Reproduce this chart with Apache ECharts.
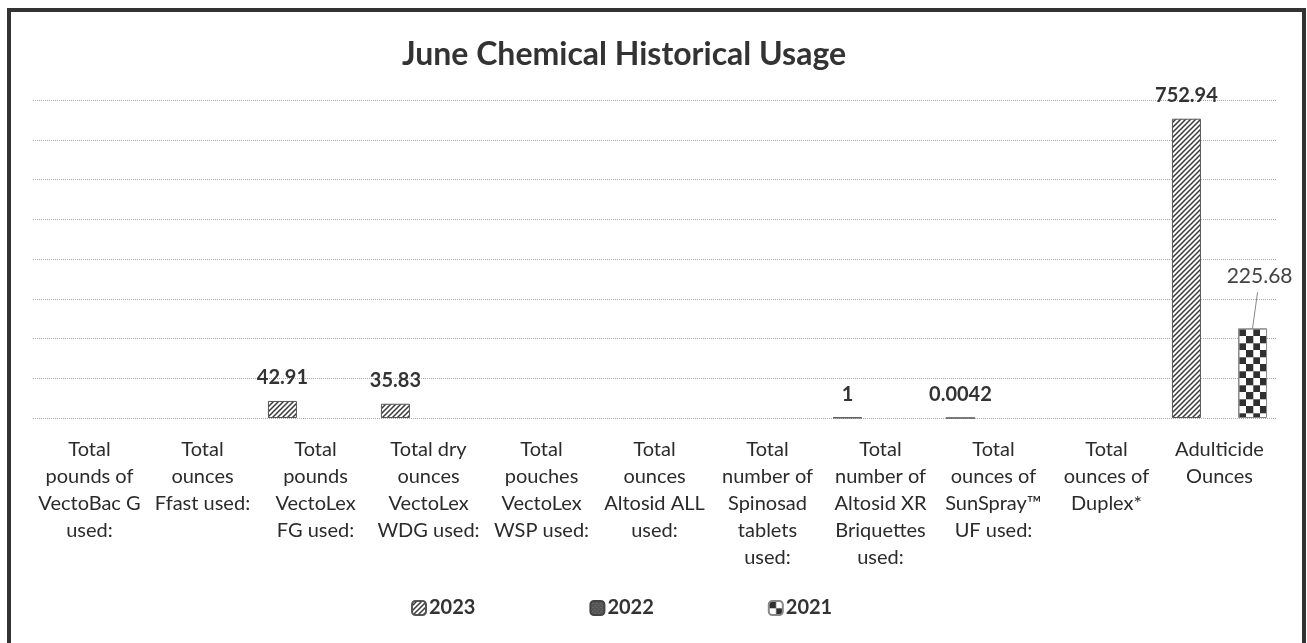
<!DOCTYPE html>
<html>
<head>
<meta charset="utf-8">
<script src="https://cdn.jsdelivr.net/npm/echarts@6/dist/echarts.min.js"></script>
<style>
  html, body { margin: 0; padding: 0; background: #fff; }
  #chart { width: 1307px; height: 643px; }
</style>
</head>
<body>
<div id="chart"></div>
<script>
const categories = [
  "Total\npounds of\nVectoBac G\nused:",
  "Total\nounces\nFfast used:",
  "Total\npounds\nVectoLex\nFG used:",
  "Total dry\nounces\nVectoLex\nWDG used:",
  "Total\npouches\nVectoLex\nWSP used:",
  "Total\nounces\nAltosid ALL\nused:",
  "Total\nnumber of\nSpinosad\ntablets\nused:",
  "Total\nnumber of\nAltosid XR\nBriquettes\nused:",
  "Total\nounces of\nSunSpray™\nUF used:",
  "Total\nounces of\nDuplex*",
  "Adulticide\nOunces"
];
const seriesNames = ["2023", "2022", "2021"];
const values2023 = [null, null, 42.91, 35.83, null, null, null, 1, 0.0042, null, 752.94];
const values2022 = [null, null, null, null, null, null, null, null, null, null, null];
const values2021 = [null, null, null, null, null, null, null, null, null, null, 225.68];
const yMin = 0, yMax = 800, yInterval = 100;

const FONT = 'Lato, "Open Sans", sans-serif';

function makePattern(kind) {
  const c = document.createElement('canvas');
  const ctx = c.getContext('2d');
  if (kind === 'hatch') {
    c.width = 5; c.height = 5;
    ctx.fillStyle = '#ffffff'; ctx.fillRect(0, 0, 5, 5);
    ctx.strokeStyle = '#3a3a3a'; ctx.lineWidth = 1.5;
    ctx.beginPath();
    ctx.moveTo(-1, 6); ctx.lineTo(6, -1);
    ctx.moveTo(-3.5, 3.5); ctx.lineTo(3.5, -3.5);
    ctx.moveTo(1.5, 8.5); ctx.lineTo(8.5, 1.5);
    ctx.stroke();
  } else if (kind === 'check') {
    c.width = 14; c.height = 14;
    ctx.fillStyle = '#ffffff'; ctx.fillRect(0, 0, 14, 14);
    ctx.fillStyle = '#303030';
    ctx.fillRect(0, 0, 7, 7); ctx.fillRect(7, 7, 7, 7);
    ctx.fillStyle = '#999';
    ctx.fillRect(0, 7, 14, 0.6); ctx.fillRect(7, 0, 0.6, 14);
  } else {
    c.width = 4; c.height = 4;
    ctx.fillStyle = '#555'; ctx.fillRect(0, 0, 4, 4);
    ctx.fillStyle = '#777'; ctx.fillRect(0, 0, 1, 1); ctx.fillRect(2, 2, 1, 1);
  }
  return { image: c, repeat: 'repeat' };
}

const labelStyle = {
  show: true, position: 'top', distance: 13,
  fontFamily: FONT, fontWeight: 'bold', fontSize: 20, color: '#333'
};

const chart = echarts.init(document.getElementById('chart'), null, { renderer: 'canvas' });
const option = {
  backgroundColor: '#fff',
  animation: false,
  title: {
    text: 'June Chemical Historical Usage',
    left: 619, top: 34, textAlign: 'center',
    textStyle: { fontFamily: FONT, fontWeight: 'bold', fontSize: 32, color: '#333' }
  },
  legend: {
    bottom: 20, left: 406, itemGap: 114,
    itemWidth: 14, itemHeight: 14,
    textStyle: { fontFamily: FONT, fontWeight: 'bold', fontSize: 20, color: '#333', padding: [0, 0, 0, -2] },
    data: seriesNames
  },
  grid: { left: 33, right: 31, top: 100, bottom: 225, containLabel: false },
  xAxis: {
    type: 'category', data: categories,
    axisLine: { show: false }, axisTick: { show: false },
    axisLabel: {
      interval: 0, margin: 18, lineHeight: 27,
      fontFamily: FONT, fontSize: 20, color: '#2b2b2b'
    }
  },
  yAxis: {
    type: 'value', min: yMin, max: yMax, interval: yInterval,
    axisLabel: { show: false }, axisLine: { show: false }, axisTick: { show: false },
    splitLine: { lineStyle: { color: '#aaa', type: 'dotted', width: 1 } }
  },
  series: [
    {
      name: seriesNames[0], type: 'bar', data: values2023, barWidth: 29, barGap: '14%',
      itemStyle: { color: makePattern('hatch'), borderColor: '#555', borderWidth: 1 },
      label: labelStyle
    },
    {
      name: seriesNames[1], type: 'bar', data: values2022, barWidth: 29,
      itemStyle: { color: makePattern('solid'), borderColor: '#444', borderWidth: 1 },
      label: labelStyle
    },
    {
      name: seriesNames[2], type: 'bar', data: values2021, barWidth: 29,
      itemStyle: { color: makePattern('check'), borderColor: '#888', borderWidth: 1 },
      label: Object.assign({}, labelStyle, { fontWeight: 'normal', fontSize: 21, color: '#444' }),
      labelLayout: { dx: 7, dy: -29 }
    }
  ]
};
chart.setOption(option);

// frame + leader line for the moved 2021 label (taken from the bar layout computed by ECharts)
const graphics = [{
  type: 'rect', silent: true,
  shape: { x: 9, y: 10, width: 1295, height: 640 },
  style: { fill: 'none', stroke: '#333', lineWidth: 4 }
}];
const data2021 = chart.getModel().getSeriesByIndex(2).getData();
values2021.forEach(function (v, i) {
  if (v == null) return;
  const lay = data2021.getItemLayout(i);
  const cx = lay.x + lay.width / 2;
  const topY = Math.min(lay.y, lay.y + lay.height);
  graphics.push({
    type: 'line', silent: true,
    shape: { x1: cx, y1: topY, x2: cx + 5, y2: topY - 36 },
    style: { stroke: '#888', lineWidth: 1 }
  });
});
chart.setOption({ graphic: graphics });
</script>
</body>
</html>
